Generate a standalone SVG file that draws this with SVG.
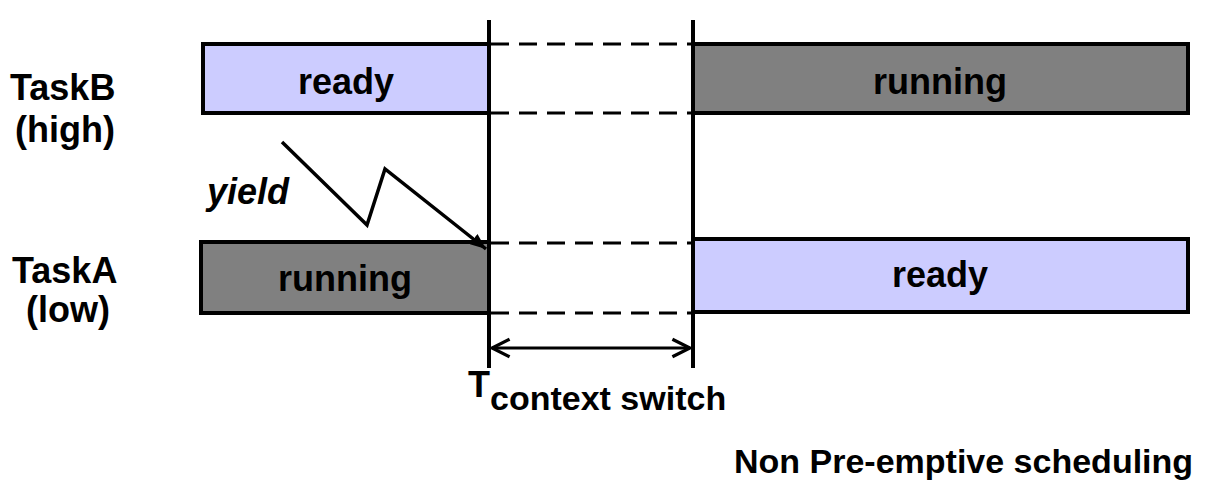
<svg xmlns="http://www.w3.org/2000/svg" width="1208" height="482" viewBox="0 0 1208 482">
<style>
text{font-family:"Liberation Sans",Arial,sans-serif;font-weight:bold;fill:#000}
.lbl{font-size:36px}
.box{stroke:#000;stroke-width:4}
.ready{fill:#ccccff}
.run{fill:#808080}
.dash{stroke:#000;stroke-width:3;stroke-dasharray:18,10;fill:none}
.ln{stroke:#000;stroke-width:4;fill:none}
</style>
<defs>
<marker id="ah" viewBox="0 0 10 10" refX="10" refY="5" markerWidth="16" markerHeight="13" orient="auto" markerUnits="userSpaceOnUse" preserveAspectRatio="none">
<path d="M0,0 L10,5 L0,10 z" fill="#000"/>
</marker>
<marker id="oa" viewBox="0 0 20 20" refX="19" refY="10" markerWidth="22" markerHeight="22" orient="auto-start-reverse" markerUnits="userSpaceOnUse">
<path d="M3,2 L19,10 L3,18" fill="none" stroke="#000" stroke-width="3"/>
</marker>
</defs>
<g id="labels">
<text class="lbl" x="10" y="100">TaskB</text>
<text class="lbl" x="15" y="142">(high)</text>
<text class="lbl" x="12" y="283">TaskA</text>
<text class="lbl" x="26" y="322">(low)</text>
<text class="lbl" x="207" y="204" font-style="italic">yield</text>
</g>
<g id="taskB-ready">
<rect class="box ready" x="203" y="44" width="286" height="69"/>
<text class="lbl" x="346" y="94" text-anchor="middle">ready</text>
</g>
<g id="taskB-running">
<rect class="box run" x="693" y="44" width="495" height="69"/>
<text class="lbl" x="940" y="94" text-anchor="middle">running</text>
</g>
<g id="taskA-running">
<rect class="box run" x="201" y="242" width="288" height="71"/>
<text class="lbl" x="345" y="291" text-anchor="middle">running</text>
</g>
<g id="taskA-ready">
<rect class="box ready" x="693" y="239" width="495" height="73"/>
<text class="lbl" x="940" y="287" text-anchor="middle">ready</text>
</g>
<g id="connectors">
<line class="dash" x1="491" y1="44" x2="693" y2="44"/>
<line class="dash" x1="491" y1="113" x2="693" y2="113"/>
<line class="dash" x1="491" y1="243" x2="693" y2="243"/>
<line class="dash" x1="491" y1="313" x2="693" y2="313"/>
<line class="ln" x1="489" y1="20" x2="489" y2="368"/>
<line class="ln" x1="693" y1="20" x2="693" y2="368"/>
<line x1="492" y1="348" x2="690" y2="348" stroke="#000" stroke-width="3" marker-start="url(#oa)" marker-end="url(#oa)"/>
<polyline points="282,142 367,225 385,169 486,249" fill="none" stroke="#000" stroke-width="3.5" marker-end="url(#ah)"/>
</g>
<g id="caption">
<text class="lbl" x="468" y="397">T<tspan font-size="34" dy="13">context switch</tspan></text>
<text class="lbl" x="734" y="473" style="font-size:34px">Non Pre-emptive scheduling</text>
</g>
</svg>
